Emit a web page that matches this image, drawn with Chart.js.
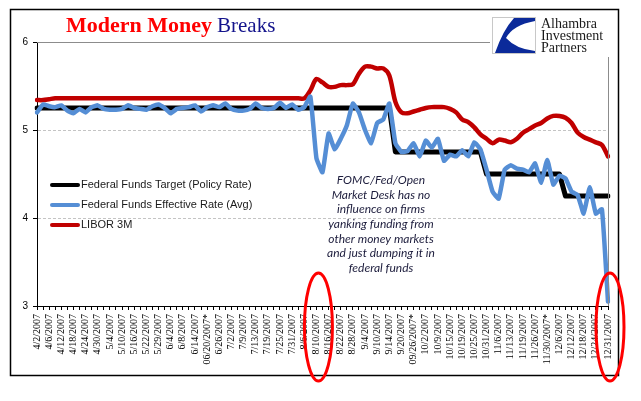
<!DOCTYPE html>
<html>
<head>
<meta charset="utf-8">
<title>Modern Money Breaks</title>
<script src="https://cdn.jsdelivr.net/npm/chart.js@4.4.0/dist/chart.umd.min.js"></script>
<style>
  html, body { margin: 0; padding: 0; background: #fff; }
  #wrap { width: 641px; height: 401px; }
</style>
</head>
<body>
<div id="wrap"><canvas id="rateChart" width="641" height="401"></canvas></div>
<script>
// Eksen etiketleri (her 4 iş gününde bir tarih)
const dateLabels = ['4/2/2007','4/6/2007','4/12/2007','4/18/2007','4/24/2007','4/30/2007','5/4/2007','5/10/2007','5/16/2007','5/22/2007','5/29/2007','6/4/2007','6/8/2007','6/14/2007','06/20/2007*','6/26/2007','7/2/2007','7/9/2007','7/13/2007','7/19/2007','7/25/2007','7/31/2007','8/6/2007','8/10/2007','8/16/2007','8/22/2007','8/28/2007','9/4/2007','9/10/2007','9/14/2007','9/20/2007','09/26/2007*','10/2/2007','10/9/2007','10/15/2007','10/19/2007','10/25/2007','10/31/2007','11/6/2007','11/13/2007','11/19/2007','11/26/2007','11/30/2007*','12/6/2007','12/12/2007','12/18/2007','12/24/2007','12/31/2007'];

// Seriler (iki iş gününde bir değer)
const targetRate = [
  5.25,5.25,5.25,5.25,5.25,5.25,5.25,5.25,5.25,5.25,
  5.25,5.25,5.25,5.25,5.25,5.25,5.25,5.25,5.25,5.25,
  5.25,5.25,5.25,5.25,5.25,5.25,5.25,5.25,5.25,5.25,
  5.25,5.25,5.25,5.25,5.25,5.25,5.25,5.25,5.25,5.25,
  5.25,5.25,5.25,5.25,5.25,5.25,5.25,5.25,5.25,5.25,
  5.25,5.25,5.25,5.25,5.25,5.25,5.25,5.25,5.25,4.75,
  4.75,4.75,4.75,4.75,4.75,4.75,4.75,4.75,4.75,4.75,
  4.75,4.75,4.75,4.75,4.50,4.50,4.50,4.50,4.50,4.50,
  4.50,4.50,4.50,4.50,4.50,4.50,4.50,4.25,4.25,4.25,
  4.25,4.25,4.25,4.25,4.25
];
const effectiveRate = [
  5.20,5.29,5.27,5.26,5.28,5.22,5.19,5.24,5.20,5.26,
  5.28,5.24,5.23,5.23,5.24,5.28,5.25,5.24,5.23,5.27,
  5.29,5.25,5.19,5.24,5.25,5.26,5.28,5.21,5.26,5.28,
  5.26,5.30,5.24,5.22,5.22,5.24,5.30,5.25,5.24,5.25,
  5.31,5.25,5.29,5.23,5.26,5.38,4.68,4.52,4.96,4.78,
  4.90,5.05,5.30,5.20,5.00,4.85,5.08,5.12,5.30,4.85,
  4.75,4.76,4.85,4.70,4.88,4.80,4.90,4.65,4.72,4.70,
  4.77,4.70,4.86,4.78,4.55,4.30,4.22,4.55,4.60,4.56,
  4.55,4.52,4.62,4.40,4.66,4.38,4.48,4.45,4.30,4.26,
  4.05,4.35,4.05,4.10,3.05
];
const libor3m = [
  5.34,5.34,5.35,5.36,5.36,5.36,5.36,5.36,5.36,5.36,
  5.36,5.36,5.36,5.36,5.36,5.36,5.36,5.36,5.36,5.36,
  5.36,5.36,5.36,5.36,5.36,5.36,5.36,5.36,5.36,5.36,
  5.36,5.36,5.36,5.36,5.36,5.36,5.36,5.36,5.36,5.36,
  5.36,5.36,5.36,5.36,5.36,5.45,5.58,5.54,5.49,5.49,
  5.51,5.51,5.52,5.64,5.72,5.72,5.70,5.70,5.62,5.32,
  5.20,5.19,5.21,5.23,5.25,5.26,5.26,5.26,5.24,5.20,
  5.12,5.09,5.03,4.95,4.90,4.85,4.89,4.88,4.86,4.90,
  4.97,5.01,5.05,5.08,5.13,5.16,5.16,5.14,5.08,4.97,
  4.92,4.89,4.86,4.83,4.70
];

const yMin = 3;
const yMax = 6;
const circledDates = ['8/10/2007', '12/31/2007'];
const noteLines = ['FOMC/Fed/Open', 'Market Desk has no', 'influence on firms', 'yanking funding from', 'other money markets', 'and just dumping it in', 'federal funds'];
const logoLines = ['Alhambra', 'Investment', 'Partners'];

// Kategori listesi: etiketler arasına boş kategori
const categories = [];
dateLabels.forEach(function(d, k) {
    categories.push(d);
    if (k < dateLabels.length - 1) categories.push('');
});

// Başlık, logo, gösterge, not ve halkalar
const decorPlugin = {
    id: 'decor',
    beforeDraw: function(chart) {
        const ctx = chart.ctx;
        ctx.save();
        ctx.fillStyle = '#ffffff';
        ctx.fillRect(0, 0, chart.width, chart.height);
        ctx.restore();
    },
    afterDraw: function(chart) {
        const ctx = chart.ctx;
        const area = chart.chartArea;
        const xs = chart.scales.x;
        ctx.save();

        // üst ve sağ gri çizgiler
        ctx.strokeStyle = '#8c8c8c';
        ctx.lineWidth = 1;
        ctx.beginPath();
        ctx.moveTo(area.left, area.top + 0.5);
        ctx.lineTo(490, area.top + 0.5);
        ctx.moveTo(area.right + 0.5, 57);
        ctx.lineTo(area.right + 0.5, area.bottom);
        ctx.stroke();

        // dış çerçeve
        ctx.strokeStyle = '#000';
        ctx.lineWidth = 1.5;
        ctx.strokeRect(10.5, 9.5, 608, 366);

        // başlık
        ctx.textBaseline = 'alphabetic';
        ctx.textAlign = 'left';
        ctx.font = 'bold 22px "Liberation Serif"';
        ctx.fillStyle = '#ff0000';
        ctx.fillText('Modern Money', 66, 32);
        const w = ctx.measureText('Modern Money').width;
        ctx.font = '21px "Liberation Serif"';
        ctx.fillStyle = '#14148c';
        ctx.fillText('Breaks', 66 + w + 5, 32);

        // logo
        ctx.fillStyle = '#fff';
        ctx.fillRect(492, 17, 43, 37);
        ctx.strokeStyle = '#c8c8c8';
        ctx.lineWidth = 1;
        ctx.strokeRect(492.5, 17.5, 43, 36);
        ctx.fillStyle = '#0b2a9a';
        ctx.beginPath();
        ctx.moveTo(514, 18);
        ctx.lineTo(535, 18);
        ctx.lineTo(535, 21);
        ctx.quadraticCurveTo(513, 25, 506, 38);
        ctx.quadraticCurveTo(516, 49, 535, 51);
        ctx.lineTo(535, 53);
        ctx.lineTo(495, 53);
        ctx.quadraticCurveTo(503, 30, 514, 18);
        ctx.closePath();
        ctx.fill();
        ctx.fillStyle = '#1a1a1a';
        ctx.font = '14px "Liberation Serif"';
        logoLines.forEach(function(t, k) {
            ctx.fillText(t, 541, 28 + k * 12);
        });

        // gösterge
        ctx.font = '11px "Liberation Sans"';
        ctx.textBaseline = 'middle';
        chart.data.datasets.forEach(function(ds, k) {
            const y = 185 + k * 20;
            ctx.strokeStyle = ds.borderColor;
            ctx.lineWidth = 4;
            ctx.lineCap = 'round';
            ctx.beginPath();
            ctx.moveTo(52, y);
            ctx.lineTo(78, y);
            ctx.stroke();
            ctx.fillStyle = '#1a1a1a';
            ctx.fillText(ds.label, 81, y);
        });

        // not
        ctx.font = 'italic 12px Lato';
        ctx.textAlign = 'center';
        ctx.fillStyle = '#1c1c3c';
        noteLines.forEach(function(t, k) {
            ctx.fillText(t, 381, 180 + k * 14.7);
        });

        // kırmızı halkalar
        ctx.strokeStyle = '#ff0000';
        ctx.lineWidth = 3;
        circledDates.forEach(function(d) {
            const cx = xs.getPixelForValue(categories.indexOf(d));
            ctx.beginPath();
            ctx.ellipse(cx + 2, area.bottom + 21, 14, 54, 0, 0, Math.PI * 2);
            ctx.stroke();
        });

        ctx.restore();
    }
};

document.addEventListener('DOMContentLoaded', function() {
    const ctx = document.getElementById('rateChart').getContext('2d');
    new Chart(ctx, {
        type: 'line',
        data: {
            labels: categories,
            datasets: [{
                label: 'Federal Funds Target (Policy Rate)',
                data: targetRate,
                borderColor: '#000000',
                borderWidth: 5,
                tension: 0,
                order: 3
            }, {
                label: 'Federal Funds Effective Rate (Avg)',
                data: effectiveRate,
                borderColor: '#558ed5',
                borderWidth: 4.5,
                tension: 0.12,
                order: 1
            }, {
                label: 'LIBOR 3M',
                data: libor3m,
                borderColor: '#c00000',
                borderWidth: 4.5,
                tension: 0.3,
                order: 2
            }]
        },
        options: {
            responsive: false,
            animation: false,
            devicePixelRatio: 1,
            elements: {
                point: { radius: 0 },
                line: { borderJoinStyle: 'round', borderCapStyle: 'round', fill: false }
            },
            layout: { padding: { left: 10, top: 42, right: 33, bottom: 25 } },
            plugins: {
                legend: { display: false },
                title: { display: false },
                tooltip: { enabled: false }
            },
            scales: {
                x: {
                    offset: false,
                    grid: { drawOnChartArea: false, tickLength: 4, tickColor: '#000', offset: false },
                    border: { color: '#000', width: 1 },
                    ticks: {
                        autoSkip: false,
                        minRotation: 90,
                        maxRotation: 90,
                        padding: 4,
                        color: '#000',
                        font: { family: 'Liberation Serif', size: 10 }
                    },
                    afterFit: function(s) { s.height = 70; }
                },
                y: {
                    min: yMin,
                    max: yMax,
                    ticks: {
                        stepSize: 1,
                        padding: 5,
                        color: '#000',
                        font: { family: 'Liberation Sans', size: 10 }
                    },
                    grid: {
                        color: function(c) {
                            return (c.tick && (c.tick.value === 4 || c.tick.value === 5)) ? '#c4c4c4' : 'rgba(0,0,0,0)';
                        },
                        tickColor: '#000',
                        tickLength: 4
                    },
                    border: { color: '#000', width: 1, dash: [3, 2] },
                    afterFit: function(s) { s.width = 27; }
                }
            }
        },
        plugins: [decorPlugin]
    });
});
</script>
</body>
</html>
